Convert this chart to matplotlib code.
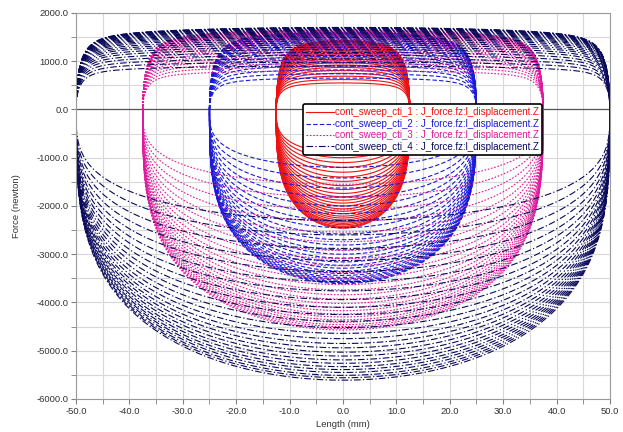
import numpy as np
import matplotlib
matplotlib.use("Agg")
import matplotlib.pyplot as plt
from matplotlib.ticker import MultipleLocator, FormatStrFormatter

plt.rcParams['font.family'] = ['Liberation Sans', 'DejaVu Sans']

# series names and stroke amplitude (mm)
names = ["cont_sweep_cti_1 : J_force.fz:l_displacement.Z",
         "cont_sweep_cti_2 : J_force.fz:l_displacement.Z",
         "cont_sweep_cti_3 : J_force.fz:l_displacement.Z",
         "cont_sweep_cti_4 : J_force.fz:l_displacement.Z"]
amplitudes = [12.5, 25.0, 37.5, 50.0]

# peak (top) and trough (bottom) force of every loop in the sweep, newton
tops_1 = [550, 620, 690, 750, 810, 870, 920, 970, 1010, 1050, 1090, 1130, 1160,
          1190, 1220, 1250, 1280, 1300, 1320, 1340, 1360, 1380, 1395, 1410, 1420, 1430]
bottoms_1 = [-900, -1000, -1100, -1200, -1300, -1400, -1490, -1580, -1660, -1740,
             -1810, -1880, -1940, -2000, -2060, -2110, -2160, -2210, -2250, -2290,
             -2330, -2360, -2390, -2420, -2440, -2460]
tops_2 = [650, 740, 820, 900, 970, 1040, 1100, 1160, 1210, 1260, 1300, 1340, 1380,
          1410, 1440, 1465, 1490, 1510, 1525, 1540, 1555, 1565, 1575, 1585, 1595, 1600]
bottoms_2 = [-1200, -1420, -1630, -1820, -2000, -2160, -2310, -2450, -2580, -2700,
             -2810, -2910, -3000, -3080, -3160, -3230, -3290, -3350, -3400, -3440,
             -3480, -3510, -3540, -3570, -3590, -3610]
tops_3 = [800, 880, 950, 1020, 1080, 1140, 1200, 1250, 1300, 1340, 1380, 1420, 1450,
          1480, 1505, 1525, 1545, 1560, 1575, 1590, 1600, 1610, 1620, 1630, 1640, 1650]
bottoms_3 = [-1550, -1820, -2080, -2320, -2540, -2740, -2920, -3090, -3240, -3380,
             -3510, -3630, -3740, -3840, -3930, -4020, -4100, -4170, -4240, -4300,
             -4360, -4410, -4460, -4500, -4540, -4570]
tops_4 = [900, 980, 1050, 1120, 1180, 1240, 1290, 1340, 1380, 1420, 1460, 1490, 1520,
          1545, 1570, 1590, 1610, 1625, 1640, 1655, 1665, 1675, 1685, 1690, 1695, 1700]
bottoms_4 = [-2300, -2600, -2880, -3130, -3360, -3570, -3760, -3940, -4100, -4250,
             -4390, -4520, -4640, -4750, -4850, -4940, -5030, -5110, -5190, -5260,
             -5330, -5390, -5450, -5510, -5560, -5610]

tops = [tops_1, tops_2, tops_3, tops_4]
bottoms = [bottoms_1, bottoms_2, bottoms_3, bottoms_4]

colors = ['#ee1111', '#1a1ad8', '#e0189b', '#0a0a5a']
dashes = [None, (4, 2), (1.5, 1.5), (6, 2, 1.2, 2)]

x_ticks = [-50, -40, -30, -20, -10, 0, 10, 20, 30, 40, 50]


def loop_shape(amp, top, bottom, t):
    """one force/displacement loop: flat-ish rebound branch, bowl-shaped compression branch"""
    x = amp*np.sin(t)
    c = np.cos(t)
    k = 1.5 + 0.05*amp
    up = top*(0.85*np.tanh(k*np.clip(c, 0, None))/np.tanh(k) + 0.15*np.clip(c, 0, None))
    down = bottom*np.abs(np.clip(c, None, 0))**0.6
    f = np.where(c >= 0, up, down)
    return x, f


fig = plt.figure(figsize=(6.23, 4.32), dpi=100)
ax = fig.add_axes([0.122, 0.0764, 0.857, 0.8936])

t = np.linspace(-np.pi/2, 3*np.pi/2, 721)
for s in range(4):
    for i in range(len(tops[s])):
        x, f = loop_shape(amplitudes[s], tops[s][i], bottoms[s][i], t)
        line, = ax.plot(x, f, color=colors[s], lw=0.8,
                        label=names[s] if i == 0 else None)
        if dashes[s] is not None:
            line.set_dashes(dashes[s])

ax.set_xlim(-50, 50)
ax.set_ylim(-6000, 2000)
ax.set_xticks(x_ticks)
ax.xaxis.set_minor_locator(MultipleLocator(5))
ax.yaxis.set_major_locator(MultipleLocator(1000))
ax.yaxis.set_minor_locator(MultipleLocator(500))
ax.xaxis.set_major_formatter(FormatStrFormatter('%.1f'))
ax.yaxis.set_major_formatter(FormatStrFormatter('%.1f'))
ax.grid(True, which='both', color='#d8d8d8', lw=0.8)
ax.set_axisbelow(True)
ax.axhline(0, color='#555555', lw=0.9, zorder=1.5)
ax.tick_params(which='both', direction='out', length=3.5, color='#808080',
               labelsize=6.8, labelcolor='#333333', pad=2)
for sp in ax.spines.values():
    sp.set_color('#9a9a9a')
ax.set_xlabel('Length (mm)', fontsize=6.8, labelpad=3, color='#333333')
ax.set_ylabel('Force (newton)', fontsize=6.8, labelpad=11, color='#333333')

leg = ax.legend(loc='upper left', bbox_to_anchor=(0.425, 0.764), fontsize=7,
                labelcolor='linecolor', handlelength=2.8, handletextpad=0.1,
                borderpad=0.35, labelspacing=0.15, borderaxespad=0,
                fancybox=True, framealpha=1)
leg.get_frame().set_edgecolor('black')
leg.get_frame().set_linewidth(1.2)

fig.savefig('out.png', dpi=100)
